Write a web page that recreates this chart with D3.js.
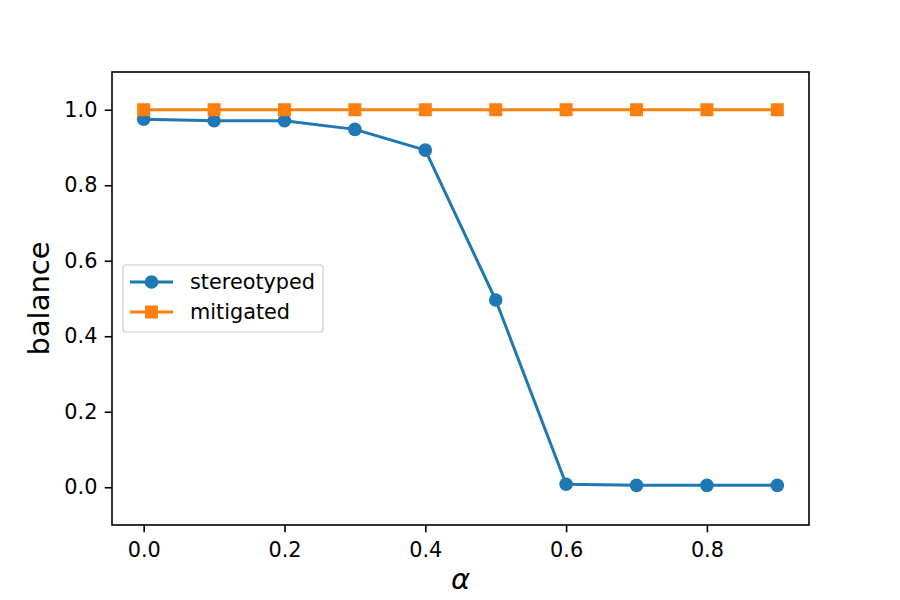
<!DOCTYPE html>
<html>
<head>
<meta charset="utf-8">
<script src="https://cdn.jsdelivr.net/npm/d3@7"></script>
<style>
  html, body { margin: 0; padding: 0; background: #fff; }
  text { font-family: "DejaVu Sans", sans-serif; }
</style>
</head>
<body>
<svg id="chart" width="900" height="600"></svg>
<script>
const alphas = [0.0, 0.1, 0.2, 0.3, 0.4, 0.5, 0.6, 0.7, 0.8, 0.9];
const stereotyped = [0.975, 0.971, 0.971, 0.948, 0.893, 0.496, 0.008, 0.005, 0.005, 0.005];
const mitigated = [1.0, 1.0, 1.0, 1.0, 1.0, 1.0, 1.0, 1.0, 1.0, 1.0];
const xTicks = [0.0, 0.2, 0.4, 0.6, 0.8];
const yTicks = [0.0, 0.2, 0.4, 0.6, 0.8, 1.0];
const seriesNames = ["stereotyped", "mitigated"];
const colors = ["#1f77b4", "#ff7f0e"];

const svg = d3.select("#chart");
const L = 112, R = 809, T = 72, B = 525;
const x = d3.scaleLinear().domain([-0.045, 0.945]).range([L, R]);
const y = d3.scaleLinear().domain([-0.1, 1.1]).range([B, T]);

const TS = 7.3, TP = 7.3, FS = "20.8px";
const xAxis = d3.axisBottom(x).tickValues(xTicks).tickFormat(d3.format(".1f")).tickSize(TS).tickPadding(TP);
const yAxis = d3.axisLeft(y).tickValues(yTicks).tickFormat(d3.format(".1f")).tickSize(TS).tickPadding(TP);

const gx = svg.append("g").attr("transform", `translate(0,${B})`).call(xAxis);
const gy = svg.append("g").attr("transform", `translate(${L},0)`).call(yAxis);
[gx, gy].forEach(g => {
  g.select(".domain").remove();
  g.selectAll(".tick line").attr("stroke", "#000").attr("stroke-width", 1.6);
  g.selectAll(".tick text").attr("fill", "#000").style("font-size", FS).style("font-family", "DejaVu Sans");
});
gx.selectAll(".tick text").attr("dy", "0.82em");

// series
const data = [stereotyped, mitigated];
const line = d3.line().x((d, i) => x(alphas[i])).y(d => y(d));
const plot = svg.append("g");
data.forEach((vals, si) => {
  const g = plot.append("g");
  g.append("path").datum(vals).attr("d", line)
    .attr("fill", "none").attr("stroke", colors[si]).attr("stroke-width", 3)
    .attr("stroke-linejoin", "round").attr("stroke-linecap", "square");
  if (si === 0) {
    g.selectAll("circle").data(vals).join("circle")
      .attr("cx", (d, i) => x(alphas[i])).attr("cy", d => y(d)).attr("r", 6.8)
      .attr("fill", colors[si]);
  } else {
    g.selectAll("rect").data(vals).join("rect")
      .attr("x", (d, i) => x(alphas[i]) - 6.5).attr("y", d => y(d) - 6.5)
      .attr("width", 13).attr("height", 13).attr("fill", colors[si]);
  }
});

// frame
svg.append("rect").attr("x", L).attr("y", T).attr("width", R - L).attr("height", B - T)
  .attr("fill", "none").attr("stroke", "#000").attr("stroke-width", 1.6);

// axis labels
svg.append("text").attr("x", (L + R) / 2).attr("y", 589).attr("text-anchor", "middle")
  .style("font-size", "29px").style("font-style", "italic").attr("fill", "#000").text("α");
svg.append("text").attr("transform", `translate(48.5,${(T + B) / 2}) rotate(-90)`)
  .attr("text-anchor", "middle").style("font-size", "29px").attr("fill", "#000").text("balance");

// legend
const lg = svg.append("g");
lg.append("rect").attr("x", 123).attr("y", 265).attr("width", 200).attr("height", 67)
  .attr("rx", 3).attr("fill", "#fff").attr("fill-opacity", 0.8).attr("stroke", "#cccccc").attr("stroke-width", 1.2);
seriesNames.forEach((name, i) => {
  const cy = 282 + i * 30;
  lg.append("line").attr("x1", 130).attr("x2", 173).attr("y1", cy).attr("y2", cy)
    .attr("stroke", colors[i]).attr("stroke-width", 3);
  if (i === 0) {
    lg.append("circle").attr("cx", 151.5).attr("cy", cy).attr("r", 6.8).attr("fill", colors[i]);
  } else {
    lg.append("rect").attr("x", 145).attr("y", cy - 6.5).attr("width", 13).attr("height", 13).attr("fill", colors[i]);
  }
  lg.append("text").attr("x", 190).attr("y", cy).attr("dy", "0.35em")
    .style("font-size", FS).attr("fill", "#000").text(name);
});
</script>
</body>
</html>
